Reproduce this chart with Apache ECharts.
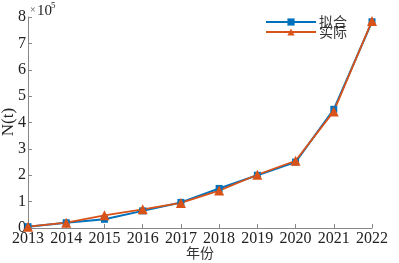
<!DOCTYPE html>
<html><head><meta charset="utf-8">
<script src="https://cdn.jsdelivr.net/npm/echarts@6/dist/echarts.min.js"></script>
<style>html,body{margin:0;padding:0;background:#fff}#c{width:399px;height:263px}</style>
</head><body><div id="c"></div>
<script>
const years = ['2013','2014','2015','2016','2017','2018','2019','2020','2021','2022'];
const fitted = [0.05, 0.2, 0.33, 0.65, 0.97, 1.5, 2.0, 2.5, 4.5, 7.82];
const actual = [0.05, 0.2, 0.48, 0.71, 0.95, 1.42, 2.02, 2.55, 4.42, 7.85];
const yTicks = [0,1,2,3,4,5,6,7,8];
const xName = '年份';
const yName = 'N(t)';
const serif = 'Liberation Serif';
const chart = echarts.init(document.getElementById('c'));
chart.setOption({
  animation:false,
  grid:{left:28,right:27,top:17,bottom:35,containLabel:false,outerBoundsMode:'none'},
  legend:{
    orient:'vertical', right:47, top:10, itemWidth:50, itemHeight:9, itemGap:-4,
    textStyle:{fontFamily:'Noto Sans CJK SC', fontSize:14, color:'#333', lineHeight:12, padding:[0,0,0,-2]},
    data:['拟合','实际']
  },
  xAxis:{
    type:'category', data:years, boundaryGap:false,
    axisLine:{lineStyle:{color:'#888'}},
    axisTick:{inside:true, length:4, interval:0, lineStyle:{color:'#888'}},
    axisLabel:{fontFamily:serif, fontSize:16, color:'#222', margin:3, interval:0}
  },
  yAxis:{
    type:'value', min:0, max:8, interval:1,
    axisLine:{show:true, lineStyle:{color:'#888'}},
    axisTick:{show:true, inside:true, length:4, lineStyle:{color:'#888'}},
    splitLine:{show:false},
    axisLabel:{fontFamily:serif, fontSize:16, color:'#222', margin:2,
      formatter: v => yTicks.includes(v) ? String(v) : ''}
  },
  graphic:[
    {type:'text', x:200, y:253, style:{text:xName, font:'14px "Noto Sans CJK SC"', fill:'#333', align:'center', verticalAlign:'middle'}},
    {type:'text', x:9, y:122, rotation:Math.PI/2, style:{text:yName, font:'17px "Liberation Serif"', fill:'#222', align:'center', verticalAlign:'middle'}},
    {type:'text', left:30, top:5, style:{text:'×', font:'10px "Liberation Serif"', fill:'#555'}},
    {type:'text', left:37, top:4, style:{text:'10', font:'15px "Liberation Serif"', fill:'#222'}},
    {type:'text', left:51, top:1, style:{text:'5', font:'9px "Liberation Serif"', fill:'#222'}}
  ],
  series:[
    {name:'拟合', type:'line', data:fitted, symbol:'rect', symbolSize:7,
     showAllSymbol:true,
     lineStyle:{color:'#0072BD', width:2}, itemStyle:{color:'#0072BD'}},
    {name:'实际', type:'line', data:actual, symbol:'triangle', symbolSize:10,
     showAllSymbol:true,
     lineStyle:{color:'#D95319', width:1.8}, itemStyle:{color:'#D95319'}}
  ]
});
</script></body></html>
